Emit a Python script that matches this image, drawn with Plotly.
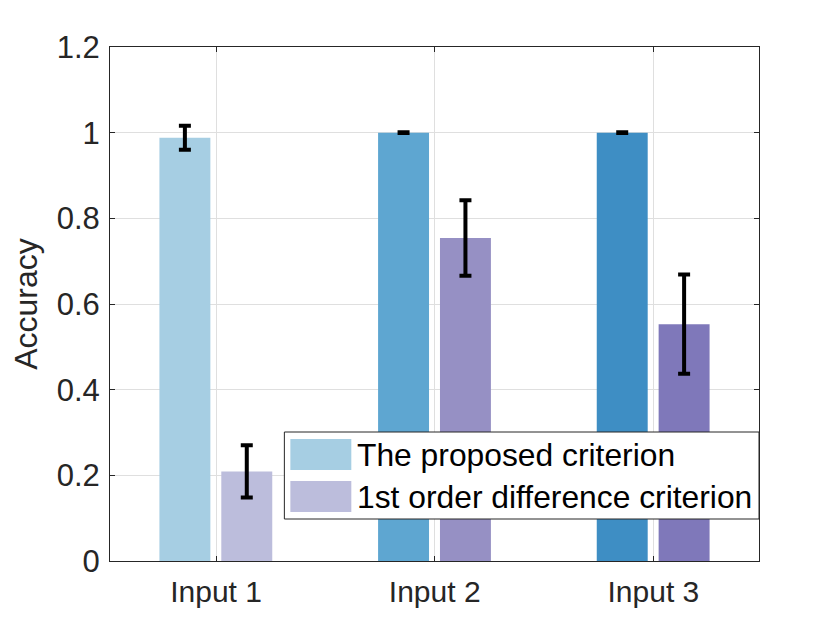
import plotly.graph_objects as go

categories = ["Input 1", "Input 2", "Input 3"]
proposed = [0.988, 1.0, 1.0]
proposed_err = [0.028, 0.001, 0.001]
first_order = [0.209, 0.754, 0.553]
first_order_err = [0.061, 0.088, 0.116]
series_names = ["The proposed criterion", "1st order difference criterion"]
proposed_colors = ["#A6CEE3", "#5EA6D1", "#3E8EC4"]
first_order_colors = ["#BCBDDC", "#9690C4", "#7F78BA"]
y_ticks = [0, 0.2, 0.4, 0.6, 0.8, 1.0, 1.2]
y_ticktext = ["0", "0.2", "0.4", "0.6", "0.8", "1", "1.2"]

xpos = [1, 2, 3]
FONT = "Liberation Sans, Arial, sans-serif"
AX = "#262626"

fig = go.Figure()
fig.add_trace(go.Bar(
    x=xpos, y=proposed, name=series_names[0], width=0.233, offset=-0.259,
    marker=dict(color=proposed_colors, line=dict(width=0)),
    error_y=dict(type="data", array=proposed_err, color="black", thickness=4, width=6),
    showlegend=False,
))
fig.add_trace(go.Bar(
    x=xpos, y=first_order, name=series_names[1], width=0.233, offset=0.024,
    marker=dict(color=first_order_colors, line=dict(width=0)),
    error_y=dict(type="data", array=first_order_err, color="black", thickness=4, width=6),
    showlegend=False,
))

# page body has an 8px margin; compensate so the plot sits where the reference has it
OFF = 8
L, R, T, B = 109.5, 759, 47, 561
W, H = 840 - OFF, 630 - OFF
pw, ph = R - L, B - T

def px(x):
    return (x - L) / pw

def py(y):
    return (B - y) / ph

shapes = [
    dict(type="rect", xref="paper", yref="paper", x0=px(284), x1=px(759), y0=py(519), y1=py(432),
         line=dict(color=AX, width=1), fillcolor="white", layer="above"),
    dict(type="rect", xref="paper", yref="paper", x0=px(290), x1=px(351), y0=py(470), y1=py(439),
         line=dict(width=0), fillcolor=proposed_colors[0], layer="above"),
    dict(type="rect", xref="paper", yref="paper", x0=px(290), x1=px(351), y0=py(512), y1=py(481),
         line=dict(width=0), fillcolor=first_order_colors[0], layer="above"),
]
annotations = [
    dict(xref="paper", yref="paper", x=px(355), y=py(455), text=series_names[0], showarrow=False,
         xanchor="left", yanchor="middle", font=dict(family=FONT, size=31.8, color="black")),
    dict(xref="paper", yref="paper", x=px(355), y=py(497), text=series_names[1], showarrow=False,
         xanchor="left", yanchor="middle", font=dict(family=FONT, size=31.8, color="black")),
]

fig.update_layout(
    width=W, height=H,
    margin=dict(l=L - OFF, r=840 - R, t=T - OFF, b=630 - B),
    paper_bgcolor="white", plot_bgcolor="white",
    font=dict(family=FONT, size=30, color=AX),
    barmode="overlay",
    shapes=shapes, annotations=annotations,
    xaxis=dict(
        range=[0.515, 3.483], tickvals=xpos, ticktext=categories,
        showgrid=True, gridcolor="#DFDFDF", gridwidth=1,
        showline=True, linecolor=AX, linewidth=1, mirror="ticks",
        ticks="inside", ticklen=5, tickcolor=AX, tickwidth=1,
        zeroline=False, tickfont=dict(size=30, color=AX),
        ticklabelstandoff=4,
    ),
    yaxis=dict(
        range=[0, 1.2], tickvals=y_ticks, ticktext=y_ticktext,
        showgrid=True, gridcolor="#DFDFDF", gridwidth=1,
        showline=True, linecolor=AX, linewidth=1, mirror="ticks",
        ticks="inside", ticklen=5, tickcolor=AX, tickwidth=1,
        zeroline=False, tickfont=dict(size=31, color=AX),
        ticklabelstandoff=3,
        title=dict(text="Accuracy", font=dict(size=32, color=AX), standoff=10),
    ),
)

fig.write_html("out.html")
